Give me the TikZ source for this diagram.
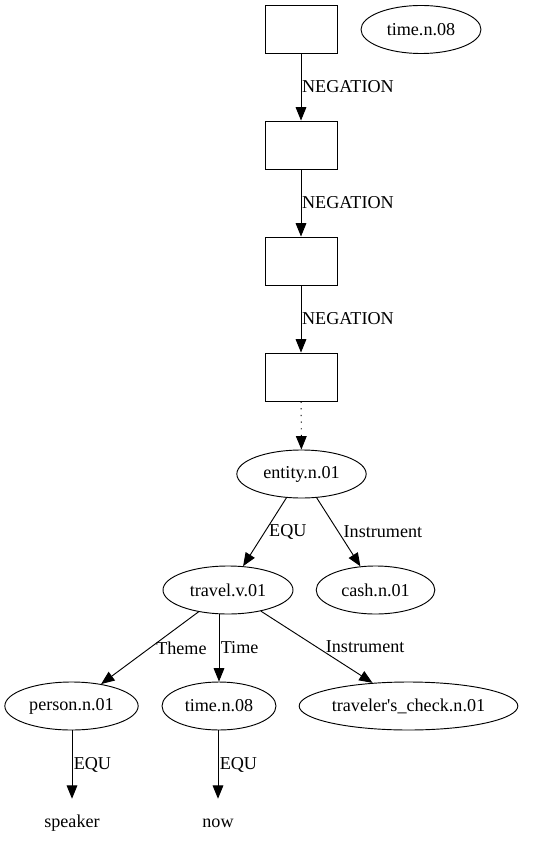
\documentclass[tikz,border=0pt]{standalone}
\usepackage{fontspec}
\setmainfont{Liberation Serif}
\usetikzlibrary{positioning}
\usetikzlibrary{shapes.geometric,arrows.meta}

\begin{document}
\begin{tikzpicture}[x=0.75pt, y=-0.75pt, font=\fontsize{13.6}{15}\selectfont,
    drs/.style={draw, rectangle, line width=0.7pt, minimum width=54pt, minimum height=36pt, inner sep=0pt},
    syn/.style={draw, ellipse, line width=0.7pt, minimum height=36pt, inner sep=0pt},
    word/.style={minimum height=36pt, inner sep=0pt},
    rel/.style={-{Triangle[length=10pt,width=8pt]}, line width=0.7pt},
    lab/.style={right, inner sep=0pt}]

  \useasboundingbox (0,0) rectangle (544,852);

 %boxes
    \foreach \name/\y in {b1/29, b2/145, b3/261, b4/377} {
         \node[drs] (\name) at (301,\y) {};
    }
    \node[syn, minimum width=90pt] (t1) at (421,29.5) {time.n.08};

 %arrows between boxes
    \foreach \a/\b in {b1/b2, b2/b3, b3/b4} {
         \draw[rel] (\a) -- node[lab, xshift=0.5pt]{NEGATION} (\b);
    }

 %level 1
    \node[syn, minimum width=97pt] (entity) at (301.5,474) {entity.n.01};
    \draw[rel, dash pattern=on 1pt off 4pt] (b4) -- (entity);

 %level 2
    \node[syn, minimum width=97.5pt] (travel) at (228,590) {travel.v.01};
    \node[syn, minimum width=89pt] (cash) at (375.5,590) {cash.n.01};
    \draw[rel] (entity) -- node[lab, xshift=3pt]{EQU} (travel);
    \draw[rel] (entity) -- node[lab, xshift=3.5pt]{Instrument} (cash);

 %level 3
    \node[syn, minimum width=100pt] (person) at (71.5,706) {person.n.01};
    \node[syn, minimum width=85.5pt] (t2) at (219,706) {time.n.08};
    \node[syn, minimum width=164pt] (check) at (408.5,706) {traveler\textquotesingle s\_check.n.01};
    \draw[rel] (travel) -- node[lab, xshift=4.5pt]{Theme} (person);
    \draw[rel] (travel.south -| t2) -- node[lab, xshift=1pt]{Time} (t2);
    \draw[rel] (travel) -- node[lab, xshift=6.5pt]{Instrument} (check);

 %level 4
    \node[word] (speaker) at (72,823) {speaker};
    \node[word] (now) at (218,823) {now};
    \draw[rel] (person.south -| speaker) -- node[lab, xshift=1pt]{EQU} (speaker);
    \draw[rel] (t2.south -| now) -- node[lab, xshift=1pt]{EQU} (now);

\end{tikzpicture}
\end{document}
